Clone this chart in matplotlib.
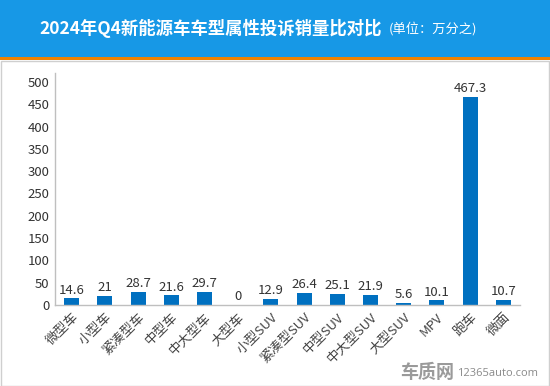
import matplotlib
matplotlib.use("Agg")
import matplotlib.pyplot as plt
from matplotlib.patches import Rectangle

plt.rcParams['font.family'] = ['Noto Sans CJK SC', 'DejaVu Sans']

categories = ["微型车", "小型车", "紧凑型车", "中型车", "中大型车", "大型车", "小型SUV",
              "紧凑型SUV", "中型SUV", "中大型SUV", "大型SUV", "MPV", "跑车", "微面"]
values = [14.6, 21, 28.7, 21.6, 29.7, 0, 12.9, 26.4, 25.1, 21.9, 5.6, 10.1, 467.3, 10.7]
labels = ["14.6", "21", "28.7", "21.6", "29.7", "0", "12.9", "26.4", "25.1", "21.9", "5.6", "10.1", "467.3", "10.7"]
yticks = [0, 50, 100, 150, 200, 250, 300, 350, 400, 450, 500]

W, H = 550, 386
fig = plt.figure(figsize=(W/100, H/100), dpi=100)
fig.patch.set_facecolor('white')

# header band
fig.patches.append(Rectangle((0, 1-57/H), 1, 57/H, transform=fig.transFigure,
                             facecolor='#1798e6', edgecolor='none', zorder=0))
fig.patches.append(Rectangle((0, 1-60/H), 1, 3/H, transform=fig.transFigure,
                             facecolor='#ef8200', edgecolor='none', zorder=0))
# panel border
fig.patches.append(Rectangle((0.5/W, 0.5/H), 1-1.5/W, 1-60.5/H-0.5/H, transform=fig.transFigure,
                             facecolor='none', edgecolor='#cfcfcf', lw=1, zorder=0))

fig.text(382/W, 1-28/H, "2024年Q4新能源车车型属性投诉销量比对比", color='white',
         fontsize=12.5, fontweight='bold', ha='right', va='center')
fig.text(389/W, 1-29/H, "(单位：万分之)", color='white', fontsize=9.5, ha='left', va='center')

ax = fig.add_axes([55/W, 1-305/H, (520-55)/W, (305-73)/H])
x = list(range(len(categories)))
ax.bar(x, values, width=0.45, color='#0070c0', zorder=2)
for xi, v, lab in zip(x, values, labels):
    ax.text(xi, v + 4, lab, ha='center', va='bottom', fontsize=9.5, color='#333333')

ax.set_xlim(-0.5, len(categories) - 0.5)
ax.set_ylim(0, 520)
ax.set_yticks(yticks)
ax.set_yticklabels([str(t) for t in yticks], fontsize=9.5, color='#333333')
ax.set_xticks(x)
ax.set_xticklabels(categories, rotation=45, ha='right', rotation_mode='anchor',
                   fontsize=9.5, color='#444444')
ax.tick_params(axis='both', length=0, pad=4)
for s in ['top', 'right']:
    ax.spines[s].set_visible(False)
for s in ['left', 'bottom']:
    ax.spines[s].set_color('#bfbfbf')
    ax.spines[s].set_linewidth(1)
ax.set_facecolor('white')

# watermark
fig.text(454/W, 1-372/H, "车质网", color='#9a9a9a', fontsize=13, fontweight='bold',
         ha='right', va='center')
fig.text(457/W, 1-373/H, "12365auto.com", color='#8a8a8a', fontsize=8,
         ha='left', va='center', family=['Open Sans', 'DejaVu Sans'])

fig.savefig("out.png", dpi=100, facecolor='white')
